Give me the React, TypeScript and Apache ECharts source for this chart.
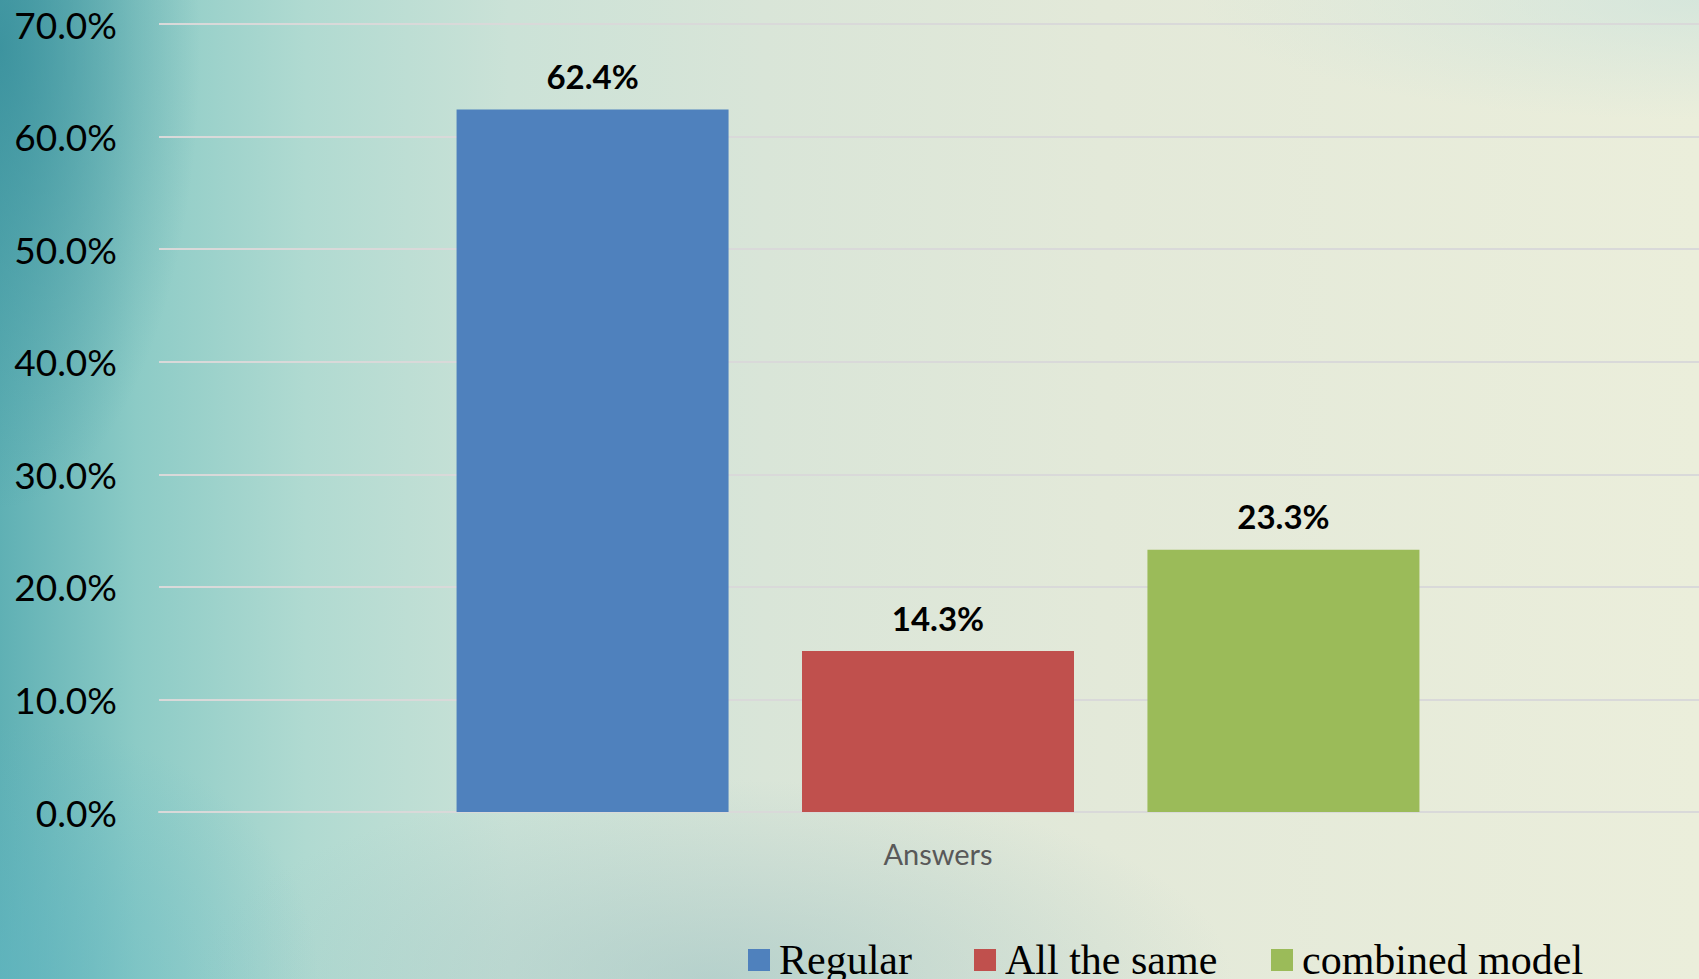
import React, { useEffect, useRef } from "react";
import * as echarts from "echarts";

const categories = ["Answers"];
const seriesNames = ["Regular", "All the same", "combined model"];
const regularValues = [62.4];
const allTheSameValues = [14.3];
const combinedValues = [23.3];
const seriesColors = ["#4F81BD", "#C0504D", "#9BBB59"];
const yMin = 0;
const yMax = 70;
const yInterval = 10;

export default function App() {
  const ref = useRef<HTMLDivElement>(null);
  useEffect(() => {
    document.body.style.margin = "0";
    const chart = echarts.init(ref.current!, undefined, { renderer: "svg" });
    const values = [regularValues, allTheSameValues, combinedValues];
    const legendLefts = [743, 969, 1266];
    chart.setOption({
      animation: false,
      grid: { left: 159, top: 24, right: 0, bottom: 167, containLabel: false },
      legend: seriesNames.map((name, i) => ({
        data: [name],
        left: legendLefts[i],
        top: 934,
        icon: "rect",
        itemWidth: 22,
        itemHeight: 22,
        textStyle: {
          fontFamily: "Liberation Serif",
          fontSize: 42,
          color: "#000",
          padding: [0, 0, 0, 4],
        },
      })),
      xAxis: {
        type: "category",
        data: categories,
        axisLine: { show: true, lineStyle: { color: "#d9d9d9", width: 2 } },
        axisTick: { show: false },
        axisLabel: {
          fontFamily: "Lato",
          fontSize: 29,
          color: "#595959",
          margin: 27,
        },
      },
      yAxis: {
        type: "value",
        min: yMin,
        max: yMax,
        interval: yInterval,
        axisLine: { show: false },
        axisTick: { show: false },
        splitLine: { lineStyle: { color: "#d9d9d9", width: 2 } },
        axisLabel: {
          fontFamily: "Lato",
          fontSize: 37,
          color: "#000",
          margin: 42,
          formatter: (v: number) => `${v.toFixed(1)}%`,
        },
      },
      series: seriesNames.map((name, i) => ({
        name,
        type: "bar",
        data: values[i],
        barWidth: 272,
        barGap: "27%",
        itemStyle: { color: seriesColors[i] },
        label: {
          show: true,
          position: "top",
          distance: 17,
          fontFamily: "Lato",
          fontWeight: "bold",
          fontSize: 33,
          color: "#000",
          formatter: (p: any) => `${Number(p.value).toFixed(1)}%`,
        },
      })),
    });
    return () => chart.dispose();
  }, []);

  return (
    <div
      style={{
        position: "fixed",
        left: 0,
        top: 0,
        width: 1699,
        height: 979,
        overflow: "hidden",
        background: [
          "radial-gradient(ellipse 200px 460px at 0% 5%, rgba(50,138,152,0.75), rgba(50,138,152,0) 100%)",
          "radial-gradient(ellipse 320px 260px at 0% 100%, rgba(95,182,195,0.55), rgba(95,182,195,0) 100%)",
          "radial-gradient(ellipse 520px 200px at 42% 100%, rgba(150,190,192,0.5), rgba(150,190,192,0) 100%)",
          "radial-gradient(ellipse 500px 120px at 100% 0%, rgba(200,225,220,0.6), rgba(200,225,220,0) 100%)",
          "linear-gradient(90deg, #5fb0b4 0%, #8ccbc6 8%, #b0dad1 18%, #cbe2d7 30%, #d9e5d8 45%, #e3e9d9 65%, #ebeedb 100%)",
        ].join(","),
      }}
    >
      <div ref={ref} style={{ width: 1717, height: 979 }} />
    </div>
  );
}
